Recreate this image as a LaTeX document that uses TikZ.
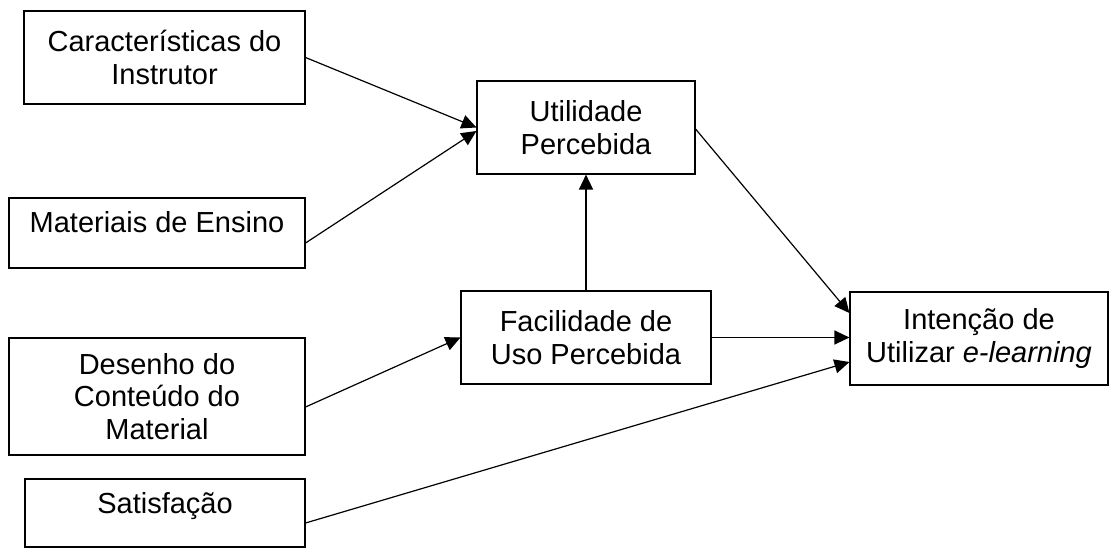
\documentclass[tikz,border=0pt]{standalone}
\usepackage{fontspec}
\setmainfont{Liberation Sans}
\usetikzlibrary{arrows.meta}
\begin{document}
\begin{tikzpicture}[x=1pt,y=-1pt,
  box/.style={draw, line width=1.1pt, inner sep=0pt, align=center,
    font=\fontsize{29}{32.5}\selectfont},
  oneline/.style={text height=#1, text depth=#1},
  link/.style={line width=1.2pt, -{Triangle[length=15pt,width=14pt]}}]
\useasboundingbox (0,0) rectangle (1109,548);

% factors on the left
\node[box, minimum width=281pt, minimum height=93pt] (ci) at (164.5,57.5)
  {Características do\\Instrutor};
\node[box, minimum width=296pt, oneline=35pt] (mat) at (157,233)
  {Materiais de Ensino};
\node[box, minimum width=296pt, minimum height=117pt] (des) at (157,396.5)
  {Desenho do\\Conteúdo do\\Material};
\node[box, minimum width=280pt, oneline=34pt] (sat) at (165,513)
  {Satisfação};

% perceptions
\node[box, minimum width=218pt, minimum height=93pt] (util) at (586,127.5)
  {Utilidade\\Percebida};
\node[box, minimum width=250pt, minimum height=93pt] (fac) at (586,337.5)
  {Facilidade de\\Uso Percebida};

% outcome
\node[box, minimum width=258pt, minimum height=93pt] (int) at (979,338.5)
  {Intenção de\\Utilizar \textit{e-learning}};

% relations
\draw[link] (ci.east) -- (util.west);
\draw[link] ([yshift=-10pt]mat.east) -- ([yshift=-3.5pt]util.west);
\draw[link] ([yshift=-1.5pt]util.east) -- ([yshift=25.5pt]int.west);
\draw[link] (fac.north) -- (util.south);
\draw[link] (fac.east) -- (fac.east -| int.west);
\draw[link] ([yshift=-10.5pt]des.east) -- (fac.west);
\draw[link] ([yshift=-10pt]sat.east) -- ([yshift=-23.5pt]int.west);
\end{tikzpicture}
\end{document}
